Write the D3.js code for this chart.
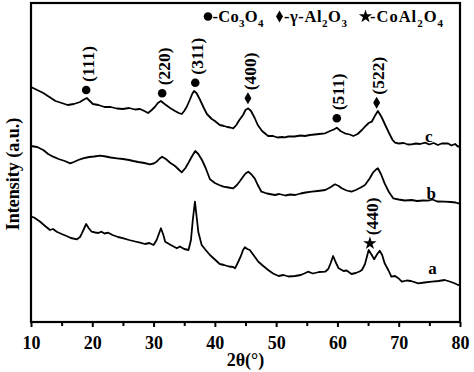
<!DOCTYPE html>
<html><head><meta charset="utf-8">
<script src="https://cdn.jsdelivr.net/npm/d3@7"></script>
<style>
html,body{margin:0;padding:0;background:#fff;}
svg{display:block;}
text{font-family:"Liberation Serif","Times New Roman",serif;font-weight:bold;fill:#000;}
</style></head>
<body>
<script>
// ---- data ----
const xTicks = [10,20,30,40,50,60,70,80];
const xMinorTicks = [15,25,35,45,55,65,75];
// [2θ, intensity (a.u.)]
const seriesC = [[10,235],[11,232],[12,229],[13,225],[14,221],[15,219],[16,217],[17,218],[18,220],[18.5,222],[19.1,224],[19.6,221],[20.1,218],[21,217],[22,215],[23,215],[24,213.5],[25,213],[26,214],[27,212.5],[27.8,213],[28.5,211],[29.1,209],[29.7,212],[30.2,215],[30.7,219],[31.2,221],[31.8,218],[32.7,214],[33.5,211],[34.1,209],[34.6,208],[35,211],[35.4,215],[35.9,222],[36.3,228],[36.6,231],[37,229],[37.6,222],[38.2,214],[38.7,208],[39.5,203],[40,201],[40.8,197],[41.5,196],[42,195],[42.5,194.5],[43,193.7],[43.5,197],[44,202],[44.6,207],[45,212],[45.45,213.7],[45.9,211],[46.5,204],[47,197],[47.7,191],[48.3,188],[48.7,186],[49.5,186],[50.2,184.5],[51,185],[51.4,184.7],[52,185.5],[53,185.5],[54,186.5],[54.7,186],[55.5,187],[56.3,187.5],[57,188],[58,188.7],[58.8,191],[59.4,192.5],[59.9,194.3],[60.5,191],[61.2,188.7],[62,187.5],[62.6,186],[63.3,188],[64,192],[64.5,195.3],[65.1,199],[65.6,200.3],[66.1,206],[66.6,211],[67.2,205],[67.8,197],[68.5,188],[69,182],[69.4,179.3],[70,178.5],[70.8,179],[71.5,177.5],[72.1,177.7],[72.8,178.5],[73.5,178],[74.3,179.3],[75,177.5],[75.7,179],[76.4,177],[77,178.5],[78,178.7],[78.6,176.5],[79.2,178],[79.7,175.3],[80,176]];
const seriesB = [[10,176],[11,175],[12,172],[12.8,168],[13.6,165.3],[14.5,163],[15.5,161],[16.4,158.7],[17,160],[17.7,162],[18.5,163.7],[19.5,165],[20.3,165.5],[21.3,166.3],[22.2,165.5],[23,164.5],[24,163.7],[25,163],[26,162],[26.7,161],[27.5,160],[28.5,159],[29.4,157.7],[30,158.5],[30.5,160.3],[31,163.5],[31.4,165.3],[32,163],[32.7,159.3],[33.5,156],[34.1,152.5],[34.6,149.7],[35.2,154],[35.7,159.3],[36.2,165],[36.8,171],[37.3,168],[37.9,162],[38.5,154],[39.2,142.7],[40,139],[40.7,137],[41.4,135.3],[42.2,134.5],[43,133.7],[43.6,137],[44.1,141],[44.6,145.3],[45,148.5],[45.45,150.3],[45.9,148],[46.5,143.7],[47,137],[47.6,130.3],[48.5,128.5],[49.8,127],[50.5,128],[51.5,126.5],[52.3,127.5],[53.1,127],[54,128.5],[54.8,129.5],[55.8,130.3],[56.8,131],[58,132],[58.8,134.5],[59.6,137.7],[60.2,136],[60.7,133.7],[61.5,131.5],[62.3,130.3],[63,132],[63.8,134.5],[64.5,137],[65.2,143],[65.8,149.3],[66.3,152.5],[66.6,153.7],[67.1,148],[67.7,138.7],[68.4,130],[69.1,123.7],[70,122.5],[71,121.5],[72.1,122],[73,121],[74,121.5],[74.8,121.3],[75.5,122.5],[76.3,120.5],[77.5,120.3],[78.5,120],[79.3,119.5],[79.7,118.7],[80,119]];
const seriesA = [[10,105.3],[10.5,104.5],[11.5,100.3],[12.3,96],[13.1,92],[13.6,93],[14.2,90.3],[15,88],[15.8,86],[16.5,84],[17.5,82.7],[18,85],[18.3,88.7],[18.7,94],[19,98],[19.4,94],[19.9,90.3],[20.5,89.5],[21,89],[21.5,90.3],[22,88.5],[22.6,89.3],[23.3,87],[24.2,85],[25.1,83.7],[26,82],[27,80.5],[27.8,79.3],[28.6,78],[29.3,79],[30,77],[30.5,82],[30.8,87],[31.2,93.7],[31.6,87],[31.9,80.3],[32.8,77],[33.8,73.7],[34.3,75.5],[35,73],[35.7,72],[36.1,82],[36.4,102],[36.75,120.3],[37.05,104],[37.3,90],[37.85,77],[38.5,72],[39.2,67],[40,62.5],[40.8,58],[41.5,57],[42.3,55.5],[43,55],[43.3,53.7],[43.8,60],[44.2,65.3],[44.6,72],[44.9,74.7],[45.3,73],[45.7,72],[46.3,67],[47.1,60.3],[47.9,56],[48.7,52],[49.5,48.5],[50.4,46],[51.2,47],[52,45.5],[53.1,46],[54,47],[54.6,48.5],[55.2,50.3],[56,48.5],[57,50],[58,50.3],[58.5,53],[58.9,59],[59.3,66],[59.7,60],[60.2,53.7],[61,51],[61.5,51.5],[62.3,48],[63,49],[63.6,50.5],[64,52],[64.5,58],[65.1,72],[65.6,67],[66,62.7],[66.5,68],[66.9,71.3],[67.3,67],[67.7,58.7],[68.3,52],[68.8,45.3],[69.4,46],[70,43.5],[70.5,40.3],[71.3,41.5],[72,41],[73.2,38.7],[74.2,39.5],[75.4,40.3],[76.5,41],[77.5,42],[78.3,40.5],[79,39],[79.7,37],[80,37.5]];
const seriesLabels = ["c","b","a"];
const seriesLabelPos = [[74.9,186],[75.3,129],[75.5,54]];
// peak annotations: label, 2θ, intensity of marker, phase
const peakLabels = ["(111)","(220)","(311)","(400)","(511)","(522)","(440)"];
const peakX = [19.0,31.4,36.8,45.4,59.9,66.4,65.3];
const peakY = [232,228.7,239.3,223.7,203.7,219.3,78.7];
const peakPhase = ["Co3O4","Co3O4","Co3O4","Al2O3","Co3O4","Al2O3","CoAl2O4"];
const legendPhases = ["Co3O4","Al2O3","CoAl2O4"];

// ---- layout ----
const W=474,H=372;
const m={left:31,right:460,top:3,bottom:322};
const svg=d3.select("body").append("svg").attr("width",W).attr("height",H);
svg.append("rect").attr("width",W).attr("height",H).attr("fill","#fff");
const x=d3.scaleLinear().domain([10,80]).range([m.left,m.right]);
const y=d3.scaleLinear().domain([0,319]).range([m.bottom,m.top]);

// axes
const xAxis=svg.append("g").attr("transform",`translate(0,${m.bottom})`)
  .call(d3.axisBottom(x).tickValues(xTicks).tickSize(5).tickPadding(9).tickFormat(d3.format("d")));
xAxis.select(".domain").remove();
xAxis.selectAll("line").attr("stroke","#000").attr("stroke-width",2);
xAxis.selectAll("text").attr("font-size",18).attr("font-family","Liberation Serif").attr("font-weight","bold").attr("fill","#000");
const xMinor=svg.append("g").attr("transform",`translate(0,${m.bottom})`)
  .call(d3.axisBottom(x).tickValues(xMinorTicks).tickSize(4).tickFormat(""));
xMinor.select(".domain").remove();
xMinor.selectAll("line").attr("stroke","#000").attr("stroke-width",2);

// frame
svg.append("rect").attr("x",m.left).attr("y",m.top).attr("width",m.right-m.left).attr("height",m.bottom-m.top)
  .attr("fill","none").attr("stroke","#000").attr("stroke-width",2.2);

// lines
const line=d3.line().x(d=>x(d[0])).y(d=>y(d[1]));
[seriesC,seriesB,seriesA].forEach(s=>{
  svg.append("path").datum(s).attr("d",line).attr("fill","none").attr("stroke","#000").attr("stroke-width",1.8).attr("stroke-linejoin","round");
});
seriesLabels.forEach((l,i)=>{
  svg.append("text").attr("x",x(seriesLabelPos[i][0])).attr("y",y(seriesLabelPos[i][1])).attr("dy","0.35em")
    .attr("text-anchor","middle").attr("font-size",17).text(l);
});

// symbols
const symFor={ "Co3O4":d3.symbol().type(d3.symbolCircle).size(58),
  "Al2O3":d3.symbol().type(d3.symbolDiamond).size(42),
  "CoAl2O4":d3.symbol().type(d3.symbolStar).size(55)};
peakLabels.forEach((l,i)=>{
  const px=x(peakX[i]), py=y(peakY[i]);
  svg.append("path").attr("d",symFor[peakPhase[i]]()).attr("transform",`translate(${px},${py})`).attr("fill","#000");
  svg.append("text").attr("transform",`translate(${px+1.5},${py-8}) rotate(-90)`).attr("dy","0.35em")
    .attr("font-size",17.5).text(l);
});

// legend
const legX=[208,279.5,365.5];
const legW=[51,63,73];
const legParts={
  "Co3O4":[["-Co",0],["3",1],["O",0],["4",1]],
  "Al2O3":[["-γ-Al",0],["2",1],["O",0],["3",1]],
  "CoAl2O4":[["-CoAl",0],["2",1],["O",0],["4",1]]
};
legendPhases.forEach((p,i)=>{
  svg.append("path").attr("d",symFor[p]()).attr("transform",`translate(${legX[i]},16.5)`).attr("fill","#000");
  const t=svg.append("text").attr("x",legX[i]+4.5).attr("y",21.7).attr("font-size",16.5)
    .attr("textLength",legW[i]).attr("lengthAdjust","spacing");
  let sub=false;
  legParts[p].forEach(([s,isSub])=>{
    const ts=t.append("tspan").text(s);
    if(isSub&&!sub){ts.attr("dy",5).attr("font-size",11);sub=true;}
    else if(!isSub&&sub){ts.attr("dy",-5);sub=false;}
  });
});

// axis titles
svg.append("text").attr("transform",`translate(12.5,174) rotate(-90)`).attr("dy","0.35em")
  .attr("text-anchor","middle").attr("font-size",18).text("Intensity (a.u.)");
svg.append("text").attr("x",x(45)).attr("y",366).attr("text-anchor","middle").attr("font-size",18).text("2θ(°)");
</script>
</body></html>
